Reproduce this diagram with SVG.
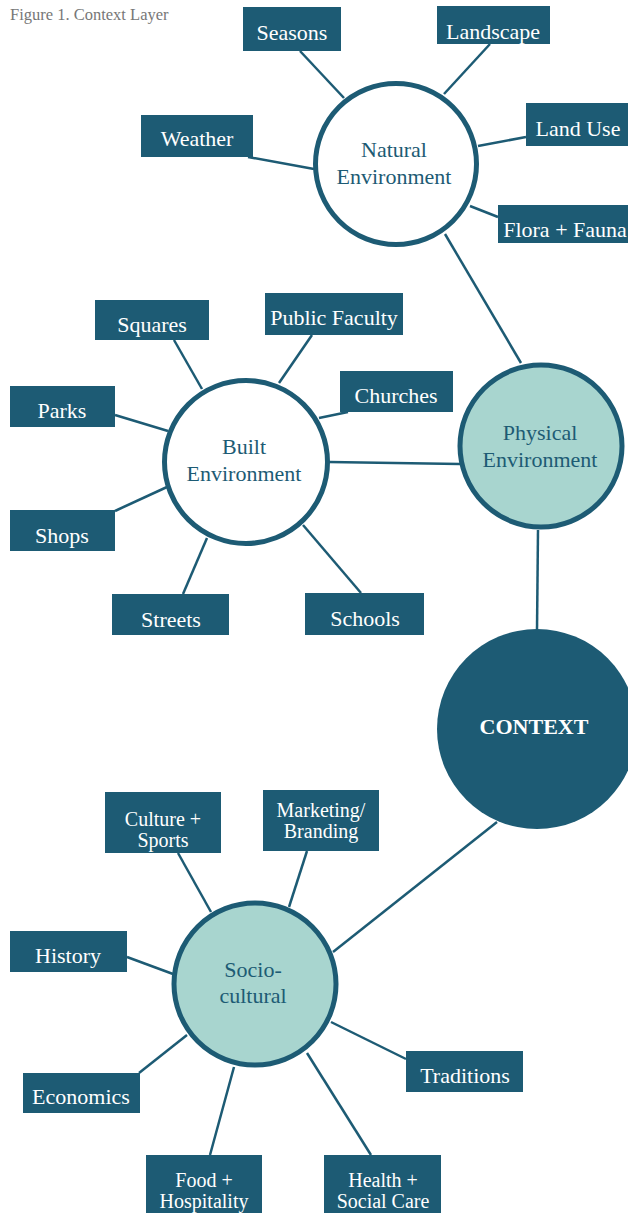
<svg xmlns="http://www.w3.org/2000/svg" width="628" height="1213" viewBox="0 0 628 1213">
<style>
.bg{fill:#ffffff}
.box{fill:#1d5b74}
.bt{fill:#ffffff;font-family:"Liberation Serif","Times New Roman",serif;font-size:22px;text-anchor:middle}
.b2{fill:#ffffff;font-family:"Liberation Serif","Times New Roman",serif;font-size:20px;text-anchor:middle}
.ct{fill:#1d5b74;font-family:"Liberation Serif","Times New Roman",serif;font-size:22px;text-anchor:middle}
.cw{fill:#ffffff;stroke:#1d5b74;stroke-width:5}
.cl{fill:#a8d5cf;stroke:#1d5b74;stroke-width:5}
.cd{fill:#1d5b74}
.lnk{stroke:#1d5b74;stroke-width:2.5;fill:none}
.cap{fill:#777777;font-family:"Liberation Serif","Times New Roman",serif;font-size:16.5px}
</style>
<rect class="bg" x="0" y="0" width="628" height="1213"/>
<text class="cap" x="10" y="20">Figure 1. Context Layer</text>
<g id="connectors">
<line class="lnk" x1="300" y1="51" x2="344" y2="98"/>
<line class="lnk" x1="490" y1="44" x2="444" y2="94"/>
<line class="lnk" x1="526" y1="137" x2="478" y2="146"/>
<line class="lnk" x1="498" y1="217" x2="470" y2="206"/>
<line class="lnk" x1="248" y1="157" x2="314" y2="169"/>
<line class="lnk" x1="445" y1="234" x2="521" y2="363"/>
<line class="lnk" x1="174" y1="340" x2="202" y2="389"/>
<line class="lnk" x1="312" y1="335" x2="279" y2="383"/>
<line class="lnk" x1="348" y1="412" x2="319" y2="418"/>
<line class="lnk" x1="115" y1="415" x2="168" y2="431"/>
<line class="lnk" x1="115" y1="511" x2="167" y2="487"/>
<line class="lnk" x1="183" y1="594" x2="207" y2="538"/>
<line class="lnk" x1="361" y1="593" x2="303" y2="525"/>
<line class="lnk" x1="329" y1="462" x2="460" y2="464"/>
<line class="lnk" x1="538" y1="530" x2="537" y2="630"/>
<line class="lnk" x1="497" y1="822" x2="333" y2="952"/>
<line class="lnk" x1="178" y1="853" x2="211" y2="912"/>
<line class="lnk" x1="307" y1="851" x2="289" y2="907"/>
<line class="lnk" x1="127" y1="957" x2="173" y2="974"/>
<line class="lnk" x1="139" y1="1073" x2="187" y2="1035"/>
<line class="lnk" x1="406" y1="1059" x2="331" y2="1022"/>
<line class="lnk" x1="210" y1="1155" x2="234" y2="1067"/>
<line class="lnk" x1="371" y1="1155" x2="307" y2="1053"/>
</g>
<g id="natural">
<circle class="cw" cx="396" cy="164" r="80.5"/>
<text class="ct" x="394" y="157">Natural</text>
<text class="ct" x="394" y="184">Environment</text>
</g>
<g id="seasons"><rect class="box" x="243" y="7" width="98" height="44"/><text class="bt" x="292" y="40">Seasons</text></g>
<g id="landscape"><rect class="box" x="437" y="6" width="113" height="38"/><text class="bt" x="493" y="39">Landscape</text></g>
<g id="landuse"><rect class="box" x="526" y="103" width="102" height="43"/><text class="bt" x="578" y="136">Land Use</text></g>
<g id="flora"><rect class="box" x="498" y="205" width="130" height="38"/><text class="bt" x="565" y="237">Flora + Fauna</text></g>
<g id="weather"><rect class="box" x="141" y="115" width="112" height="42"/><text class="bt" x="197" y="146">Weather</text></g>
<g id="built">
<circle class="cw" cx="246" cy="462" r="81.5"/>
<text class="ct" x="244" y="454">Built</text>
<text class="ct" x="244" y="481">Environment</text>
</g>
<g id="squares"><rect class="box" x="95" y="300" width="114" height="40"/><text class="bt" x="152" y="332">Squares</text></g>
<g id="publicfaculty"><rect class="box" x="265" y="293" width="138" height="42"/><text class="bt" x="334" y="325">Public Faculty</text></g>
<g id="churches"><rect class="box" x="340" y="371" width="113" height="41"/><text class="bt" x="396" y="403">Churches</text></g>
<g id="parks"><rect class="box" x="10" y="386" width="105" height="41"/><text class="bt" x="62" y="418">Parks</text></g>
<g id="shops"><rect class="box" x="10" y="510" width="105" height="41"/><text class="bt" x="62" y="543">Shops</text></g>
<g id="streets"><rect class="box" x="112" y="594" width="117" height="41"/><text class="bt" x="171" y="627">Streets</text></g>
<g id="schools"><rect class="box" x="305" y="593" width="119" height="42"/><text class="bt" x="365" y="626">Schools</text></g>
<g id="physical">
<circle class="cl" cx="541" cy="446" r="81"/>
<text class="ct" x="540" y="440">Physical</text>
<text class="ct" x="540" y="467">Environment</text>
</g>
<g id="context">
<circle class="cd" cx="537" cy="729" r="100"/>
<text x="534" y="734" style="fill:#ffffff;font-family:'Liberation Serif','Times New Roman',serif;font-size:22px;font-weight:bold;text-anchor:middle">CONTEXT</text>
</g>
<g id="sociocultural">
<circle class="cl" cx="255" cy="984" r="81"/>
<text class="ct" x="253" y="977">Socio-</text>
<text class="ct" x="253" y="1003">cultural</text>
</g>
<g id="culture"><rect class="box" x="105" y="792" width="116" height="61"/><text class="b2" x="163" y="826">Culture +</text><text class="b2" x="163" y="847">Sports</text></g>
<g id="marketing"><rect class="box" x="263" y="790" width="116" height="61"/><text class="b2" x="321" y="817">Marketing/</text><text class="b2" x="321" y="838">Branding</text></g>
<g id="history"><rect class="box" x="10" y="931" width="117" height="41"/><text class="bt" x="68" y="963">History</text></g>
<g id="economics"><rect class="box" x="23" y="1073" width="117" height="40"/><text class="bt" x="81" y="1104">Economics</text></g>
<g id="traditions"><rect class="box" x="406" y="1051" width="117" height="41"/><text class="bt" x="465" y="1083">Traditions</text></g>
<g id="food"><rect class="box" x="146" y="1155" width="116" height="60"/><text class="b2" x="204" y="1187">Food +</text><text class="b2" x="204" y="1208">Hospitality</text></g>
<g id="health"><rect class="box" x="324" y="1155" width="117" height="60"/><text class="b2" x="383" y="1187">Health +</text><text class="b2" x="383" y="1208">Social Care</text></g>
</svg>
